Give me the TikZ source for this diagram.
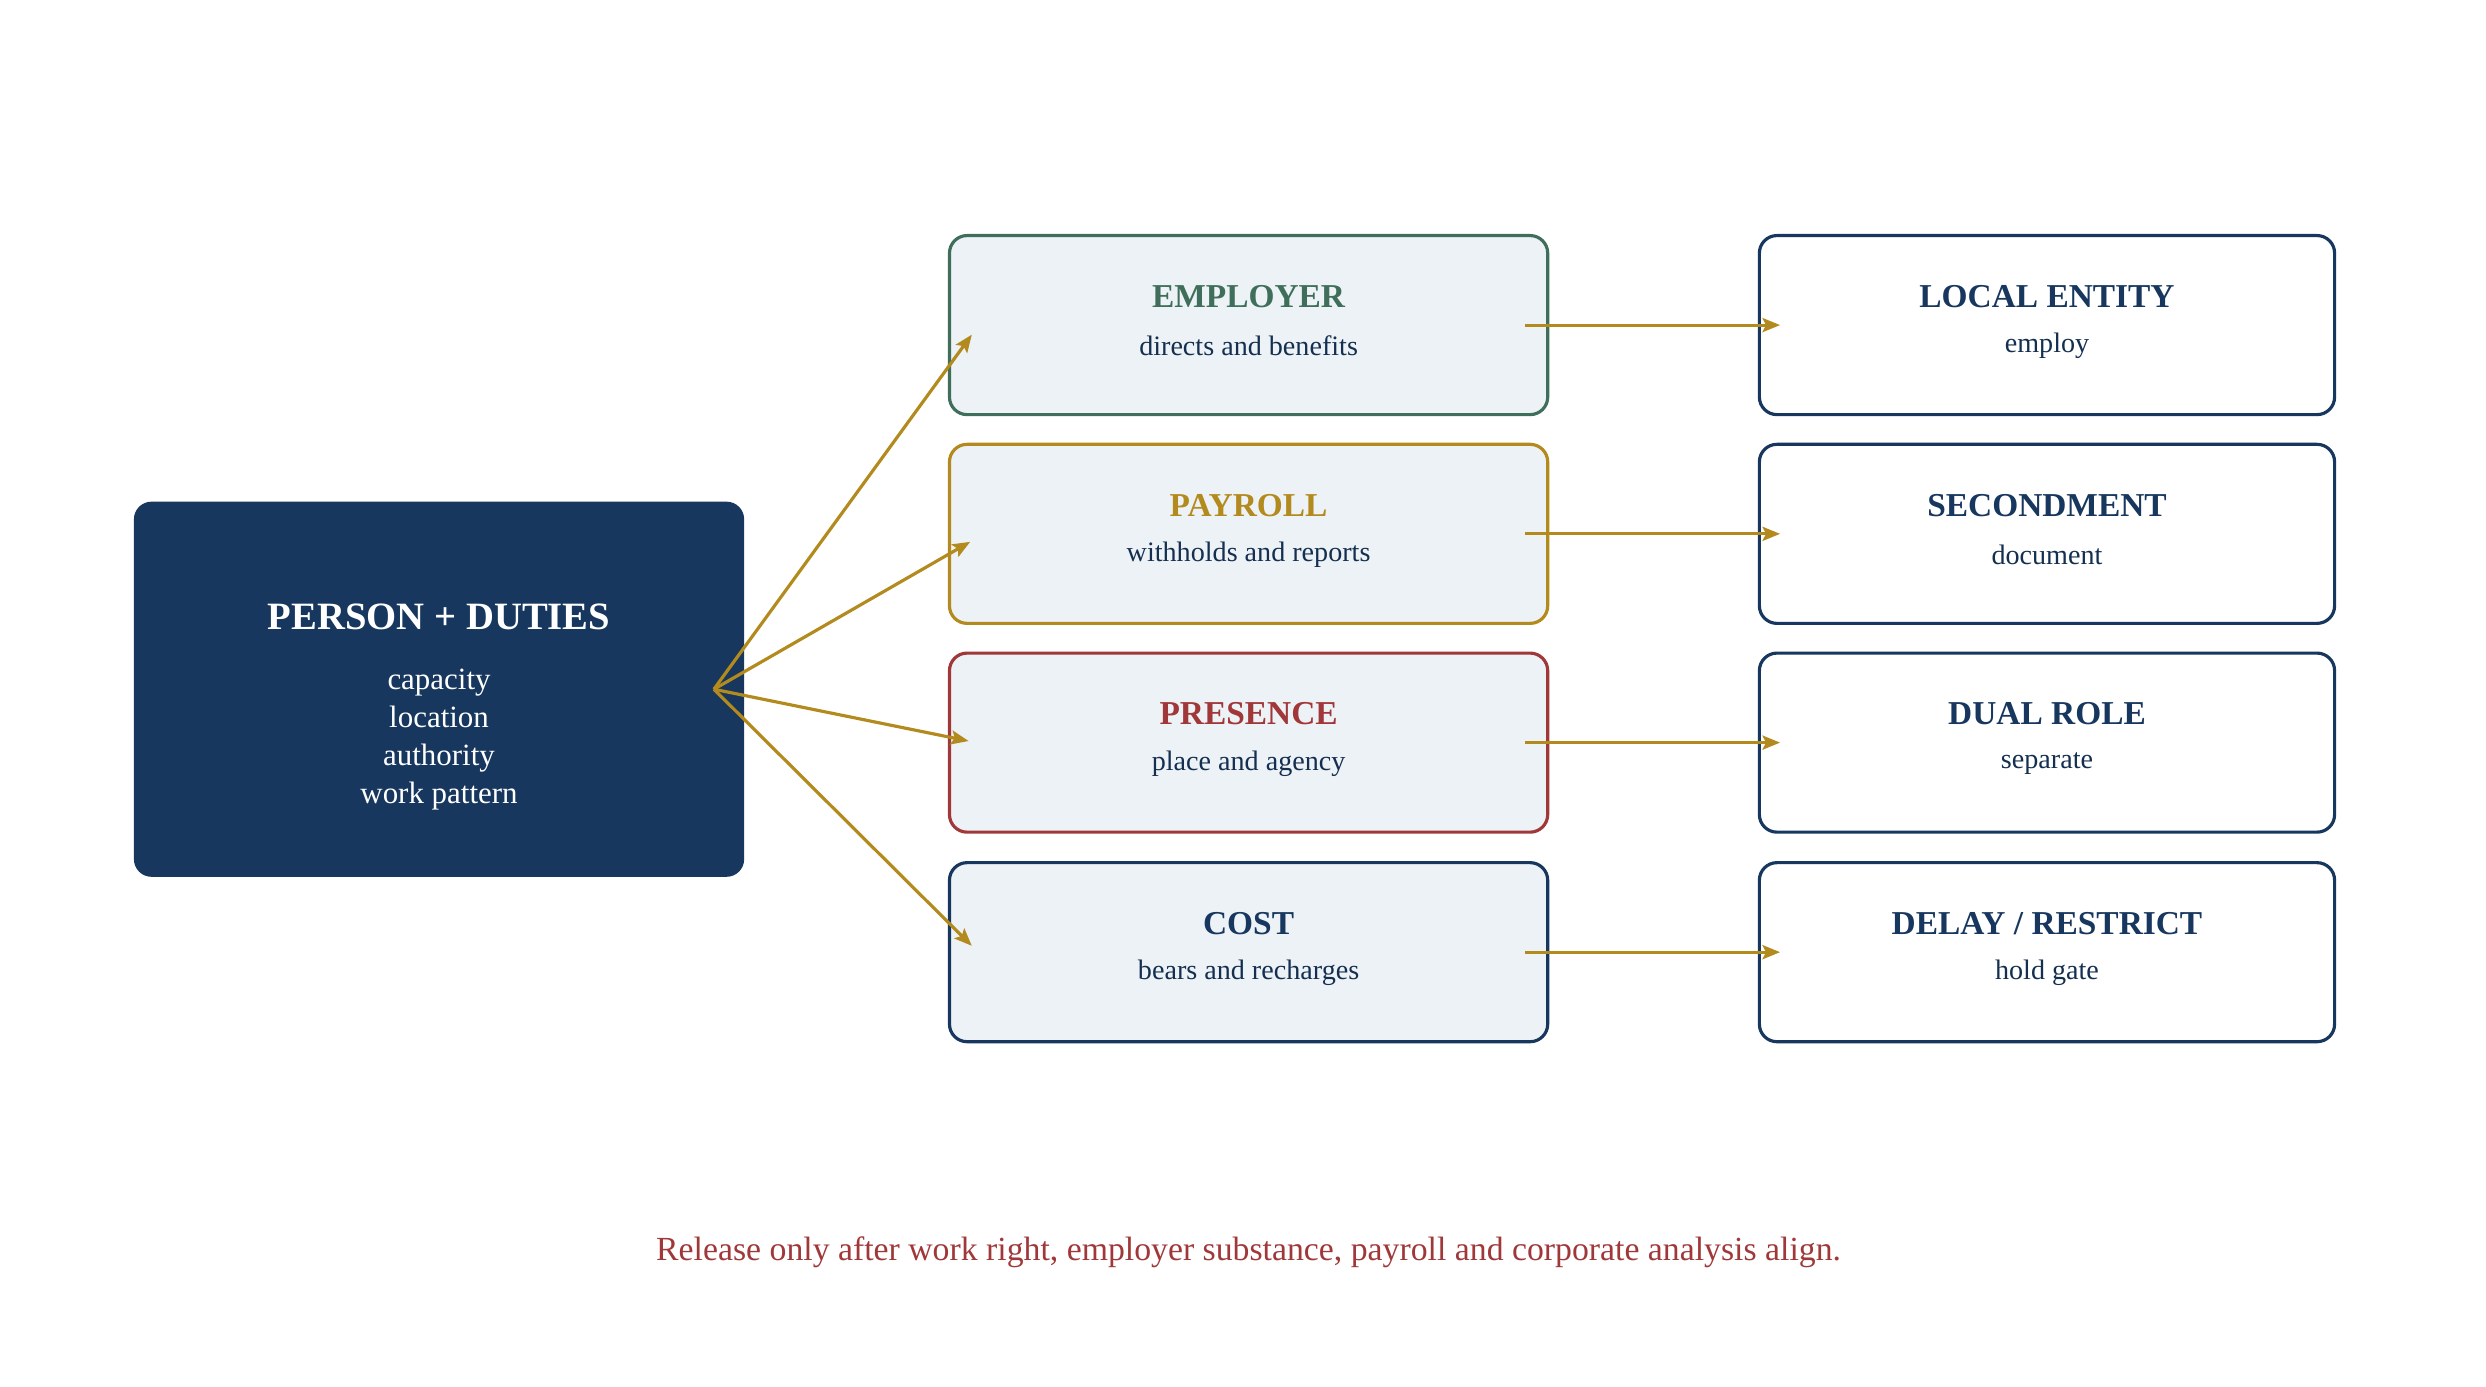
\documentclass[tikz,border=0pt]{standalone}
\usepackage{fontspec}
\setmainfont{Liberation Serif}
\usetikzlibrary{positioning}
\usetikzlibrary{calc}
\usetikzlibrary{arrows.meta}
\definecolor{navy}{HTML}{17375E}
\definecolor{sage}{HTML}{3F6E5A}
\definecolor{gold}{HTML}{B38A1E}
\definecolor{brick}{HTML}{A0383A}
\definecolor{pale}{HTML}{EDF2F6}
\begin{document}
\begin{tikzpicture}
  [
    x=0.015936cm,y=-0.015936cm,
    box/.style={
      rounded corners=5pt,
      line width=0.9pt,
      minimum width=375\pgflinewidth,
      inner sep=0pt,
      align=center
    },
    stage/.style={
      box,
      fill=pale,
      minimum width=5.98cm,
      minimum height=1.79cm
    },
    act/.style={
      box,
      draw=navy,
      fill=white,
      minimum width=5.75cm,
      minimum height=1.79cm
    },
    ttl/.style={font=\bfseries\fontsize{9.5}{11}\selectfont},
    sub/.style={font=\fontsize{8}{10}\selectfont,text=navy!85!black},
    flow/.style={
      -{Stealth[length=5pt,width=4pt,inset=1pt]},
      draw=gold,
      line width=0.9pt
    }
  ]
  \useasboundingbox (0,0) rectangle (1560,870);
  % person
  \node [box,fill=navy,minimum width=6.1cm,minimum height=3.75cm] (person) at (275.5,432.5) {};
  \node [ttl,text=white,font=\bfseries\fontsize{11}{13}\selectfont] (persont) at (275.5,387) {PERSON + DUTIES};
  \node [text=white,align=center,font=\fontsize{8.8}{10.8}\selectfont,below=4pt of persont] (persons) {capacity\\location\\authority\\work pattern};
  % middle column
  \node [stage,draw=sage]  (emp) at (783.5,204) {};
  \node [stage,draw=gold]  (pay) at (783.5,335) {};
  \node [stage,draw=brick] (pre) at (783.5,466) {};
  \node [stage,draw=navy]  (cst) at (783.5,597.5) {};
  \node [ttl,text=sage]  at ($(emp)+(0,-18)$) {EMPLOYER};
  \node [sub]            at ($(emp)+(0,13)$) {directs and benefits};
  \node [ttl,text=gold]  at ($(pay)+(0,-18)$) {PAYROLL};
  \node [sub]            at ($(pay)+(0,13)$) {withholds and reports};
  \node [ttl,text=brick] at ($(pre)+(0,-18)$) {PRESENCE};
  \node [sub]            at ($(pre)+(0,13)$) {place and agency};
  \node [ttl,text=navy]  at ($(cst)+(0,-18)$) {COST};
  \node [sub]            at ($(cst)+(0,13)$) {bears and recharges};
  % right column
  \node [act] (loc) at (1284.5,204) {};
  \node [act] (sec) at (1284.5,335) {};
  \node [act] (dul) at (1284.5,466) {};
  \node [act] (dly) at (1284.5,597.5) {};
  \node [ttl,text=navy] at ($(loc)+(0,-18)$) {LOCAL ENTITY};
  \node [sub]           at ($(loc)+(0,13)$) {employ};
  \node [ttl,text=navy] at ($(sec)+(0,-18)$) {SECONDMENT};
  \node [sub]           at ($(sec)+(0,13)$) {document};
  \node [ttl,text=navy] at ($(dul)+(0,-18)$) {DUAL ROLE};
  \node [sub]           at ($(dul)+(0,13)$) {separate};
  \node [ttl,text=navy] at ($(dly)+(0,-18)$) {DELAY / RESTRICT};
  \node [sub]           at ($(dly)+(0,13)$) {hold gate};
  % arrows
  \coordinate (hub) at ($(person.east)+(-20,0)$);
  \draw [flow] (hub) -- ($(emp.west)+(15,6)$);
  \draw [flow] (hub) -- ($(pay.west)+(14,5)$);
  \draw [flow] (hub) -- ($(pre.west)+(13,-1)$);
  \draw [flow] (hub) -- ($(cst.west)+(15,-4)$);
  \foreach \a/\b in {emp/loc,pay/sec,pre/dul,cst/dly}
    \draw [flow] ($(\a.east)+(-15,0)$) -- ($(\b.west)+(14,0)$);
  % caption
  \node [text=brick,font=\fontsize{9.6}{12}\selectfont] (note) at (783.5,786) {Release only after work right, employer substance, payroll and corporate analysis align.};
\end{tikzpicture}
\end{document}
